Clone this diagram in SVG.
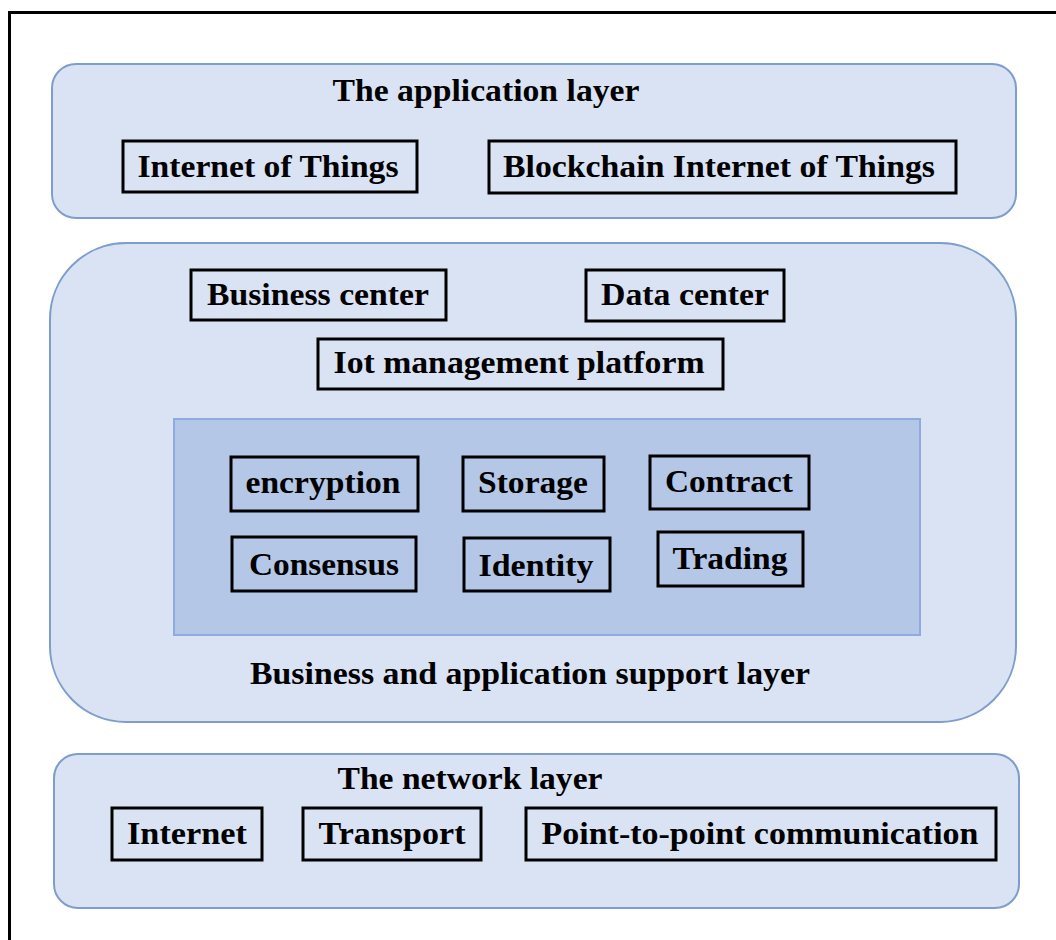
<svg xmlns="http://www.w3.org/2000/svg" width="1056" height="940" viewBox="0 0 1056 940">
<style>
.layer{fill:#dae3f3;stroke:#7f9dcc;stroke-width:2}
.inner{fill:#b4c7e7;stroke:#8faadc;stroke-width:2}
.box{fill:none;stroke:#000;stroke-width:3}
.t{font-family:"Liberation Serif","Times New Roman",serif;font-weight:bold;font-size:31px;fill:#000;text-anchor:middle}
</style>
<rect x="0" y="0" width="1056" height="940" fill="#fff"/>
<path d="M9.5 940 V12.5 H1056" fill="none" stroke="#000" stroke-width="3"/>

<g id="application-layer">
<rect class="layer" x="52" y="64" width="964" height="154" rx="24"/>
<text class="t" x="486" y="101" textLength="307" lengthAdjust="spacingAndGlyphs">The application layer</text>
</g>
<g id="iot">
<rect class="box" x="123" y="141" width="294" height="51"/>
<text class="t" x="268" y="177" textLength="261" lengthAdjust="spacingAndGlyphs">Internet of Things</text>
</g>
<g id="biot">
<rect class="box" x="489" y="141" width="467" height="52"/>
<text class="t" x="719" y="177" textLength="432" lengthAdjust="spacingAndGlyphs">Blockchain Internet of Things</text>
</g>

<g id="support-layer">
<rect class="layer" x="50" y="243" width="966" height="479" rx="76"/>
<text class="t" x="530" y="684" textLength="560" lengthAdjust="spacingAndGlyphs">Business and application support layer</text>
</g>
<g id="business-center">
<rect class="box" x="191" y="270" width="255" height="50"/>
<text class="t" x="318" y="305" textLength="222" lengthAdjust="spacingAndGlyphs">Business center</text>
</g>
<g id="data-center">
<rect class="box" x="586" y="270" width="198" height="51"/>
<text class="t" x="685" y="305" textLength="168" lengthAdjust="spacingAndGlyphs">Data center</text>
</g>
<g id="iot-platform">
<rect class="box" x="318" y="339" width="405" height="50"/>
<text class="t" x="519" y="373" textLength="371" lengthAdjust="spacingAndGlyphs">Iot management platform</text>
</g>

<g id="blockchain-core">
<rect class="inner" x="174" y="419" width="746" height="216"/>
</g>
<g id="encryption">
<rect class="box" x="231" y="457" width="187" height="54"/>
<text class="t" x="323" y="493" textLength="155" lengthAdjust="spacingAndGlyphs">encryption</text>
</g>
<g id="storage">
<rect class="box" x="463" y="457" width="141" height="54"/>
<text class="t" x="533" y="493" textLength="110" lengthAdjust="spacingAndGlyphs">Storage</text>
</g>
<g id="contract">
<rect class="box" x="650" y="456" width="159" height="53"/>
<text class="t" x="729" y="492" textLength="128" lengthAdjust="spacingAndGlyphs">Contract</text>
</g>
<g id="consensus">
<rect class="box" x="232" y="537" width="184" height="54"/>
<text class="t" x="324" y="575" textLength="150" lengthAdjust="spacingAndGlyphs">Consensus</text>
</g>
<g id="identity">
<rect class="box" x="464" y="538" width="146" height="53"/>
<text class="t" x="536" y="576" textLength="115" lengthAdjust="spacingAndGlyphs">Identity</text>
</g>
<g id="trading">
<rect class="box" x="658" y="532" width="145" height="54"/>
<text class="t" x="730" y="569" textLength="115" lengthAdjust="spacingAndGlyphs">Trading</text>
</g>

<g id="network-layer">
<rect class="layer" x="54" y="754" width="965" height="154" rx="24"/>
<text class="t" x="470" y="789" textLength="265" lengthAdjust="spacingAndGlyphs">The network layer</text>
</g>
<g id="internet">
<rect class="box" x="112" y="808" width="150" height="52"/>
<text class="t" x="187" y="844" textLength="120" lengthAdjust="spacingAndGlyphs">Internet</text>
</g>
<g id="transport">
<rect class="box" x="303" y="808" width="178" height="52"/>
<text class="t" x="392" y="844" textLength="147" lengthAdjust="spacingAndGlyphs">Transport</text>
</g>
<g id="p2p">
<rect class="box" x="526" y="808" width="470" height="52"/>
<text class="t" x="760" y="844" textLength="437" lengthAdjust="spacingAndGlyphs">Point-to-point communication</text>
</g>
<g id="connectors"></g>
</svg>
